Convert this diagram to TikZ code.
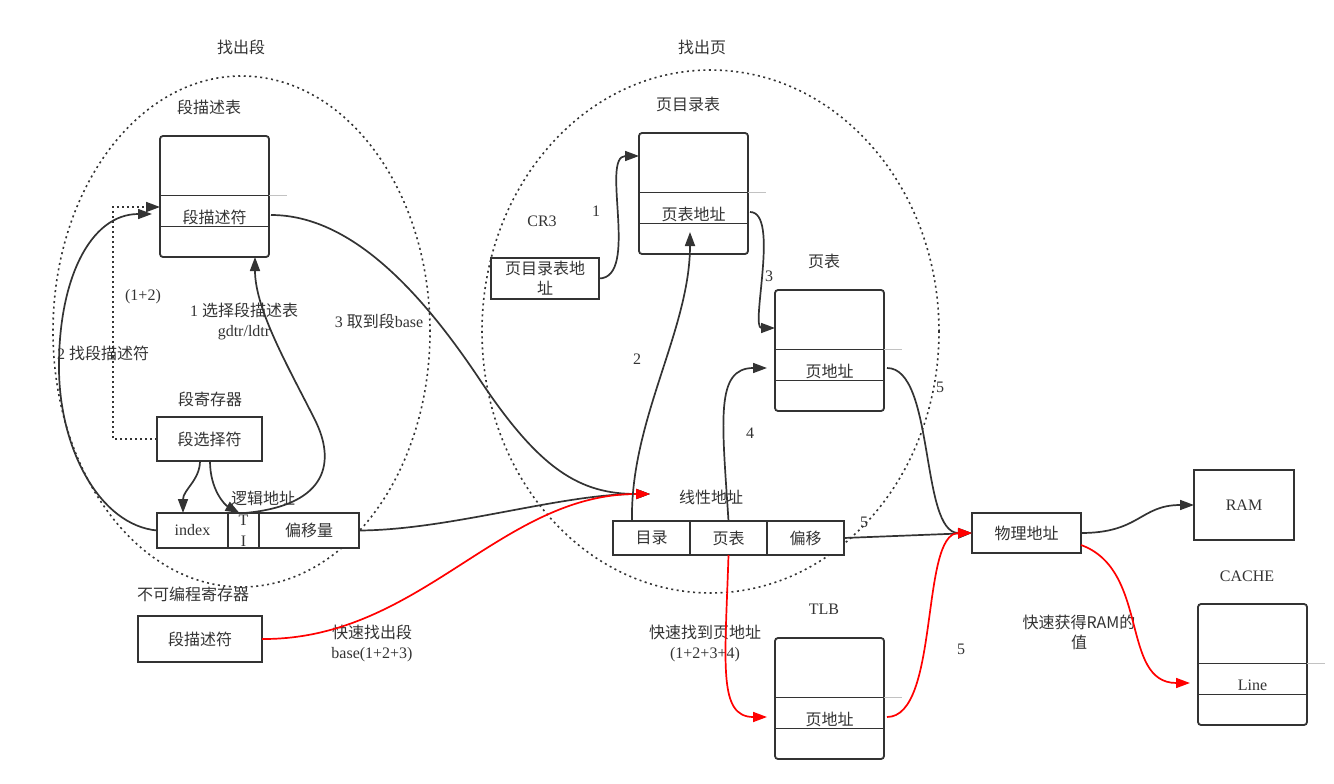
\documentclass[tikz,border=0pt]{standalone}
\usepackage{fontspec}
\setmainfont{Liberation Serif}
\newfontfamily\zh{Noto Sans CJK SC}
\usetikzlibrary{arrows.meta,positioning,shapes.geometric}
\definecolor{ink}{HTML}{333333}
\definecolor{hot}{HTML}{FF0000}

\begin{document}
\begin{tikzpicture}[x=1pt,y=-1pt,
    every node/.style={font=\fontsize{16}{20}\selectfont, text=ink},
    tag/.style={inner sep=1pt, align=center},
    cell/.style={draw=ink, line width=1.8pt, fill=white, inner sep=0pt, outer sep=0pt, minimum height=35pt, align=center},
    listbox/.style={draw=ink, line width=1.8pt, fill=white, rounded corners=3pt, minimum width=109pt, minimum height=121pt, inner sep=0pt, outer sep=0pt},
    row/.style={minimum width=109pt, minimum height=26pt, inner sep=0pt, outer sep=0pt, yshift=-20.5pt},
    rowline/.style={draw=ink, line width=1.7pt},
    zone/.style={ellipse, draw=ink, line width=1.6pt, dash pattern=on 2pt off 3.5pt, inner sep=0pt},
    link/.style={draw=ink, line width=1.7pt, -{Triangle[length=14pt,width=10pt]}},
    fast/.style={link, draw=hot},
  ]
  \useasboundingbox (0,0) rectangle (1334,784);

  % Zones:
  %   the two dotted regions, segment lookup and page lookup
  \node[zone, minimum width=377pt, minimum height=511pt] (segzone) at (241.5,331.5) {};
  \node[zone, minimum width=457pt, minimum height=523pt] (pagezone) at (710.5,331.5) {};
  \node[tag] (segzoneT) at (241,47) {\zh 找出段};
  \node[tag] (pagezoneT) at (702,47) {\zh 找出页};

  % Segment descriptor table
  \node[listbox] (segtab) at (214.5,196.5) {};
  \node[row] (segdesc) at (segtab) {\zh 段描述符};
  \node[tag] (segtabT) at (209,107) {\zh 段描述表};

  % Segment register
  \node[cell, minimum width=105pt, minimum height=44pt] (segsel) at (209.5,439) {\zh 段选择符};
  \node[tag] (segselT) at (210,399) {\zh 段寄存器};

  % Logical address
  \node[cell, minimum width=71pt] (lidx) at (192.5,530.5) {index};
  \node[cell, minimum width=31pt, right=0pt of lidx, font=\fontsize{16}{21}\selectfont] (lti) {T\\I};
  \node[cell, minimum width=100pt, right=0pt of lti] (loff) {\zh 偏移量};
  \node[tag] (logT) at (263,498) {\zh 逻辑地址};

  % Hidden descriptor cache
  \node[cell, minimum width=124pt, minimum height=46pt] (hdesc) at (200,639) {\zh 段描述符};
  \node[tag] (hdescT) at (193,594) {\zh 不可编程寄存器};

  \node[tag] (l12) at (143,297) {(1+2)};
  \node[tag] (step1) at (244,321) {1 {\zh 选择段描述表}\\gdtr/ldtr};
  \node[tag] (step3) at (379,321) {3 {\zh 取到段}base};
  \node[tag] (step2) at (103,353) {2 {\zh 找段描述符}};
  \node[tag] (fastseg) at (372,643) {{\zh 快速找出段}\\base(1+2+3)};

  % Page directory
  \node[listbox] (dirtab) at (693.5,193.5) {};
  \node[row] (ptaddr) at (dirtab) {\zh 页表地址};
  \node[tag] (dirtabT) at (688,104) {\zh 页目录表};
  \node[cell, minimum width=108pt, minimum height=41pt] (cr3) at (545,278.5) {{\zh 页目录表地}\\{\zh 址}};
  \node[tag] (cr3T) at (542,221) {CR3};

  % Page table
  \node[listbox] (pgtab) at (829.5,350.5) {};
  \node[row] (pgaddr) at (pgtab) {\zh 页地址};
  \node[tag] (pgtabT) at (824,261) {\zh 页表};

  % Linear address
  \node[cell, minimum width=77pt, minimum height=34pt] (ldir) at (651.5,538) {\zh 目录};
  \node[cell, minimum width=77pt, minimum height=34pt, right=0pt of ldir] (lpt) {\zh 页表};
  \node[cell, minimum width=77pt, minimum height=34pt, right=0pt of lpt] (loffs) {\zh 偏移};
  \node[tag] (linT) at (711,497) {\zh 线性地址};
  \coordinate (linin) at (650,494);

  % TLB
  \node[listbox] (tlb) at (829.5,698.5) {};
  \node[row] (tlbaddr) at (tlb) {\zh 页地址};
  \node[tag] (tlbT) at (824,609) {TLB};
  \node[tag] (fastpg) at (705,643) {{\zh 快速找到页地址}\\(1+2+3+4)};

  % Physical address, RAM and cache
  \node[cell, minimum width=109pt, minimum height=40pt] (phys) at (1026.5,533) {\zh 物理地址};
  \node[cell, minimum width=100pt, minimum height=70pt] (ram) at (1244,505) {RAM};
  \node[listbox] (cache) at (1252.5,664.5) {};
  \node[row] (cline) at (cache) {Line};
  \node[tag] (cacheT) at (1247,576) {CACHE};
  \node[tag] (fastram) at (1079,632) {{\zh 快速获得RAM的}\\{\zh 值}};

  \node[tag] (n1) at (596,211) {1};
  \node[tag] (n2) at (637,359) {2};
  \node[tag] (n3) at (769,276) {3};
  \node[tag] (n4) at (750,433) {4};
  \node[tag] (n5a) at (940,387) {5};
  \node[tag] (n5b) at (864,522) {5};
  \node[tag] (n5c) at (961,649) {5};

  % rows of the list boxes
  \foreach \tab in {segtab,dirtab,pgtab,tlb,cache}{
    \draw[rowline] ([yshift=1pt]\tab.west) -- ([yshift=1pt]\tab.east);
    \draw[rowline] ([yshift=-30pt]\tab.west) -- ([yshift=-30pt]\tab.east);
    \draw[ink!30, line width=0.8pt] ([yshift=1pt]\tab.east) -- ++(18,0);
  }

  % Segment lookup
  \draw[link, dash pattern=on 2pt off 3pt] (segsel.west) -- ++(-44,0) |- ([yshift=10pt]segdesc.west);
  \draw[link] (lidx.west) .. controls (100,525) and (60,450) .. (59,370)
    .. controls (58,280) and (90,214) .. ([shift={(-8,-3)}]segdesc.west);
  \draw[link] ([xshift=-9.5pt]segsel.south) .. controls (200,480) and (183,490) .. ([xshift=-9.5pt]lidx.north);
  \draw[link] ([xshift=0.5pt]segsel.south) .. controls (210,490) and (225,505) .. ([xshift=-4pt]lti.north);
  \draw[link] ([xshift=1.5pt]lti.north) .. controls (330,505) and (335,460) .. (315,420)
    .. controls (290,370) and (255,310) .. ([xshift=40.5pt]segtab.south);
  \draw[link] ([shift={(2,-2)}]segdesc.east) .. controls (350,215) and (420,290) .. (480,380)
    .. controls (540,470) and (580,494) .. (linin);
  \draw[link] (loff.east) .. controls (450,530) and (560,494) .. (linin);
  \draw[fast] (hdesc.east) .. controls (420,640) and (500,494) .. (linin);

  % Page lookup
  \draw[link] (cr3.east) .. controls (640,278) and (600,156) .. ([yshift=-23pt]dirtab.north west);
  \draw[link] ([xshift=-19.5pt]ldir.north) .. controls (630,420) and (690,330) .. ([shift={(-3.5,18)}]ptaddr.center);
  \draw[link] ([shift={(2,-2)}]ptaddr.east) .. controls (780,212) and (750,328) .. ([yshift=22.5pt]pgtab.west);
  \draw[link] (lpt.north) .. controls (722,420) and (715,368) .. ([shift={(-8,-3)}]pgaddr.west);
  \draw[link] ([shift={(3,-3)}]pgaddr.east) .. controls (935,368) and (920,533) .. (phys.west);
  \draw[link] (loffs.east) -- (phys.west);
  \draw[fast] (lpt.south) .. controls (725,665) and (718,717) .. ([shift={(-8,-2)}]tlbaddr.west);
  \draw[fast] ([shift={(3,-2)}]tlbaddr.east) .. controls (940,717) and (920,533) .. (phys.west);

  % Memory
  \draw[link] (phys.east) .. controls (1140,533) and (1140,505) .. (ram.west);
  \draw[fast] ([yshift=-12pt]phys.east) .. controls (1150,570) and (1120,683) .. ([shift={(-8,-2)}]cline.west);
\end{tikzpicture}
\end{document}
